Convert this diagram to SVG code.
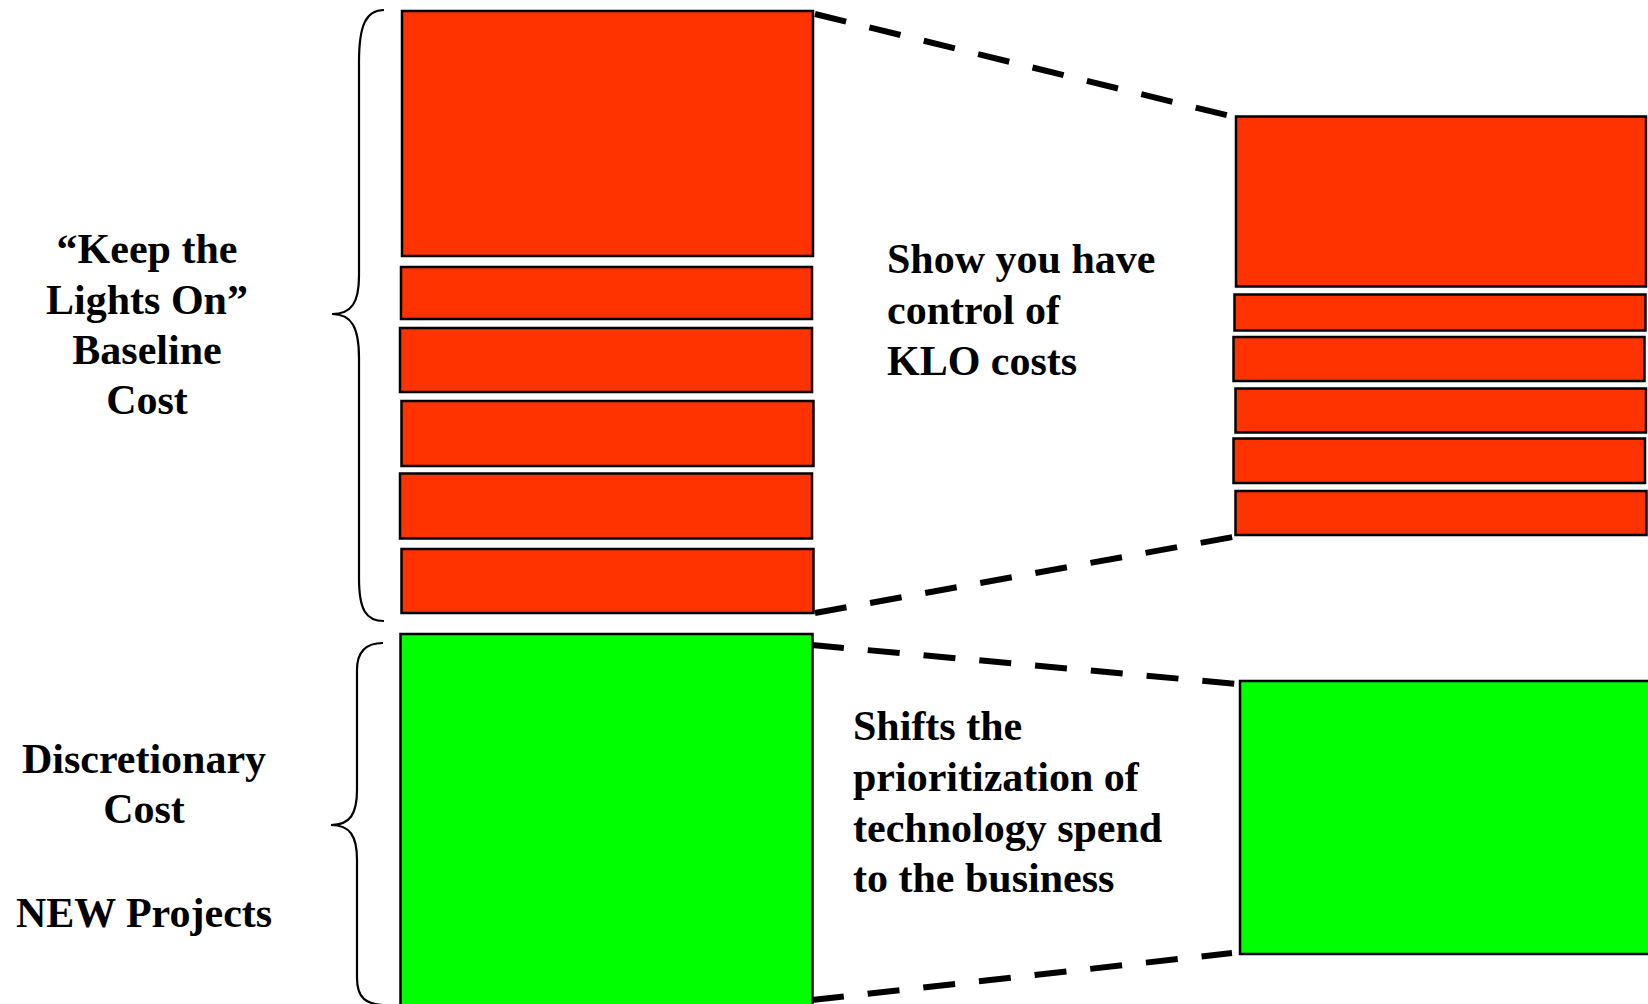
<svg xmlns="http://www.w3.org/2000/svg" width="1648" height="1004" viewBox="0 0 1648 1004">
  <style>
    .klo { fill: #FF3300; stroke: #000; stroke-width: 2.5; }
    .disc { fill: #00FF00; stroke: #000; stroke-width: 2.5; }
    .brace { fill: none; stroke: #000; stroke-width: 2.2; }
    .zoom { fill: none; stroke: #000; stroke-width: 6; stroke-dasharray: 32 24; }
    .lbl { font-family: "Liberation Serif", "Times New Roman", serif; font-weight: bold; font-size: 42px; fill: #000; }
    .mid { text-anchor: middle; }
  </style>
  <rect width="1648" height="1004" fill="#fff"/>

  <!-- dashed zoom lines linking the left stacks to the right stacks -->
  <g id="connectors">
    <line class="zoom" x1="815" y1="14" x2="1230" y2="116"/>
    <line class="zoom" x1="815" y1="613" x2="1233" y2="537"/>
    <line class="zoom" x1="812" y1="645" x2="1237" y2="684"/>
    <line class="zoom" x1="812" y1="1000" x2="1232" y2="953"/>
  </g>

  <!-- braces -->
  <g id="brace-klo">
    <path class="brace" d="M384,10 C366,10 359,25 359,62 L359,276 C359,302 352,314 332,314 C352,314 359,328 359,358 L359,578 C359,610 366,621 384,621"/>
  </g>
  <g id="brace-disc">
    <path class="brace" d="M383,643 C365,643 357,653 357,670 L357,790 C357,814 350,825 331,825 C350,825 357,836 357,860 L357,978 C357,998 366,1004 383,1005"/>
  </g>

  <!-- left: baseline cost stack -->
  <g id="klo-left">
    <rect class="klo" x="402" y="11" width="411" height="245"/>
    <rect class="klo" x="401" y="267" width="411" height="52"/>
    <rect class="klo" x="400" y="328" width="412" height="64"/>
    <rect class="klo" x="401.5" y="401" width="412" height="65"/>
    <rect class="klo" x="400" y="473.5" width="412" height="65"/>
    <rect class="klo" x="401.5" y="549" width="412" height="64"/>
  </g>

  <!-- left: discretionary cost -->
  <g id="disc-left">
    <rect class="disc" x="400.5" y="634" width="412" height="380"/>
  </g>

  <!-- right: reduced baseline cost stack -->
  <g id="klo-right">
    <rect class="klo" x="1236" y="116.5" width="410" height="170"/>
    <rect class="klo" x="1234.5" y="294.5" width="411" height="36"/>
    <rect class="klo" x="1233.5" y="337" width="411" height="44"/>
    <rect class="klo" x="1235.5" y="388.5" width="410.5" height="44"/>
    <rect class="klo" x="1233.5" y="438.5" width="411.5" height="44.5"/>
    <rect class="klo" x="1235.5" y="491" width="411" height="44"/>
  </g>

  <!-- right: expanded discretionary cost -->
  <g id="disc-right">
    <rect class="disc" x="1240" y="681" width="420" height="273"/>
  </g>

  <!-- labels -->
  <g id="label-klo">
    <text class="lbl mid" x="147" y="263">“Keep the</text>
    <text class="lbl mid" x="147" y="313.5">Lights On”</text>
    <text class="lbl mid" x="147" y="364">Baseline</text>
    <text class="lbl mid" x="147" y="414">Cost</text>
  </g>
  <g id="label-disc">
    <text class="lbl mid" x="144" y="773">Discretionary</text>
    <text class="lbl mid" x="144" y="823">Cost</text>
    <text class="lbl mid" x="144" y="926.5">NEW Projects</text>
  </g>
  <g id="note-klo">
    <text class="lbl" x="887" y="273">Show you have</text>
    <text class="lbl" x="887" y="324">control of</text>
    <text class="lbl" x="887" y="375">KLO costs</text>
  </g>
  <g id="note-disc">
    <text class="lbl" x="853" y="740">Shifts the</text>
    <text class="lbl" x="853" y="791">prioritization of</text>
    <text class="lbl" x="853" y="841.5">technology spend</text>
    <text class="lbl" x="853" y="892">to the business</text>
  </g>
</svg>
